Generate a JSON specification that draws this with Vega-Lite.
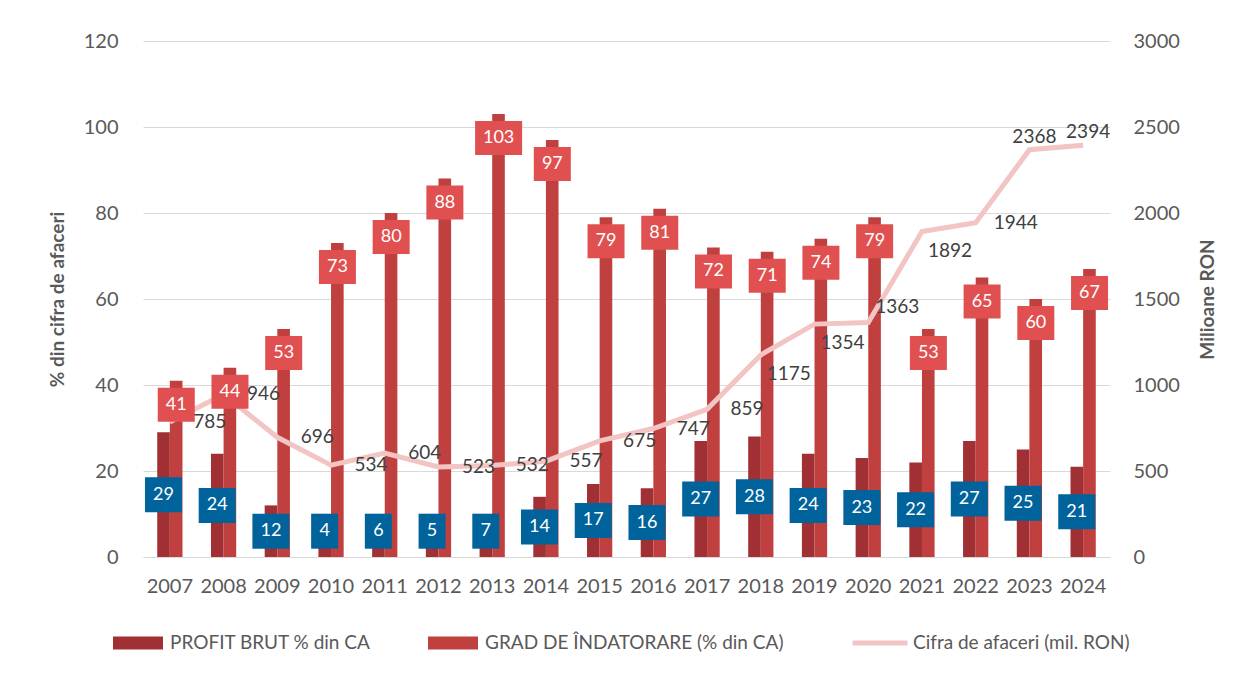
{
  "$schema": "https://vega.github.io/schema/vega-lite/v6.json",
  "width": 967,
  "height": 516,
  "autosize": {"type": "none"},
  "padding": {"left": 143, "top": 41, "right": 136, "bottom": 116},
  "background": "white",
  "config": {
    "view": {"stroke": null},
    "font": "Lato",
    "axis": {"labelFont": "Lato", "labelFontSize": 20, "labelColor": "#595959", "titleFont": "Lato", "titleFontSize": 19, "titleFontWeight": "bold", "titleColor": "#595959", "ticks": false},
    "legend": {"labelFont": "Lato", "labelFontSize": 19, "labelColor": "#595959", "labelLimit": 0, "orient": "none", "direction": "horizontal", "title": null}
  },
  "data": {"values": [
    {"year": "2007", "profit": 29, "grad": 41, "cifra": 785},
    {"year": "2008", "profit": 24, "grad": 44, "cifra": 946},
    {"year": "2009", "profit": 12, "grad": 53, "cifra": 696},
    {"year": "2010", "profit": 4, "grad": 73, "cifra": 534},
    {"year": "2011", "profit": 6, "grad": 80, "cifra": 604},
    {"year": "2012", "profit": 5, "grad": 88, "cifra": 523},
    {"year": "2013", "profit": 7, "grad": 103, "cifra": 532},
    {"year": "2014", "profit": 14, "grad": 97, "cifra": 557},
    {"year": "2015", "profit": 17, "grad": 79, "cifra": 675},
    {"year": "2016", "profit": 16, "grad": 81, "cifra": 747},
    {"year": "2017", "profit": 27, "grad": 72, "cifra": 859},
    {"year": "2018", "profit": 28, "grad": 71, "cifra": 1175},
    {"year": "2019", "profit": 24, "grad": 74, "cifra": 1354},
    {"year": "2020", "profit": 23, "grad": 79, "cifra": 1363},
    {"year": "2021", "profit": 22, "grad": 53, "cifra": 1892},
    {"year": "2022", "profit": 27, "grad": 65, "cifra": 1944},
    {"year": "2023", "profit": 25, "grad": 60, "cifra": 2368},
    {"year": "2024", "profit": 21, "grad": 67, "cifra": 2394}
  ]},
  "encoding": {
    "x": {
      "field": "year", "type": "nominal", "title": null,
      "scale": {"paddingInner": 0.53, "paddingOuter": 0.265},
      "axis": {"labelAngle": 0, "labelPadding": 19, "domainColor": "#D9D9D9", "domainWidth": 1, "grid": false}
    }
  },
  "layer": [
    {
      "transform": [{"fold": ["profit", "grad"], "as": ["serie", "val"]}],
      "mark": {"type": "bar"},
      "encoding": {
        "xOffset": {"field": "serie", "type": "nominal", "scale": {"domain": ["profit", "grad"], "paddingInner": 0, "paddingOuter": 0}},
        "y": {"field": "val", "type": "quantitative", "scale": {"domain": [0, 120], "nice": false},
          "axis": {"orient": "left", "values": [0, 20, 40, 60, 80, 100, 120], "title": "% din cifra de afaceri", "titlePadding": 16, "labelPadding": 25, "domain": false, "grid": true, "gridColor": "#D9D9D9", "gridWidth": 1}},
        "color": {"field": "serie", "type": "nominal",
          "scale": {"domain": ["profit", "grad"], "range": ["#A13035", "#C0403F"]},
          "legend": {"legendX": -30, "legendY": 577, "symbolType": "M-1,-0.26H1V0.26H-1Z", "symbolSize": 2500, "symbolStrokeWidth": 0, "labelOffset": 7, "columnPadding": 56,
            "labelExpr": "datum.label == 'profit' ? 'PROFIT BRUT % din CA' : 'GRAD DE ÎNDATORARE (% din CA)'"}}
      }
    },
    {
      "mark": {"type": "line", "strokeWidth": 5, "interpolate": "linear"},
      "encoding": {
        "y": {"field": "cifra", "type": "quantitative", "scale": {"domain": [0, 3000], "nice": false},
          "axis": {"orient": "right", "values": [0, 500, 1000, 1500, 2000, 2500, 3000], "format": "d", "title": "Milioane RON", "titleAngle": 270, "titlePadding": 38, "labelPadding": 23, "domain": false, "grid": false}},
        "stroke": {"datum": "Cifra de afaceri (mil. RON)", "type": "nominal",
          "scale": {"range": ["#F2C4C4"]},
          "legend": {"legendX": 707, "legendY": 572, "symbolType": "stroke", "symbolSize": 3025, "symbolStrokeWidth": 5, "labelOffset": 3}}
      }
    },
    {
      "transform": [{"filter": "datum.grad >= 100"}],
      "mark": {"type": "tick", "orient": "horizontal", "size": 47, "thickness": 34, "color": "#E05050", "opacity": 1, "xOffset": 6.4, "yOffset": 24},
      "encoding": {"y": {"field": "grad", "type": "quantitative", "scale": {"domain": [0, 120], "nice": false}, "axis": null}}
    },
    {
      "transform": [{"filter": "datum.grad < 100"}],
      "mark": {"type": "tick", "orient": "horizontal", "size": 37, "thickness": 34, "color": "#E05050", "opacity": 1, "xOffset": 6.4, "yOffset": 24},
      "encoding": {"y": {"field": "grad", "type": "quantitative", "scale": {"domain": [0, 120], "nice": false}, "axis": null}}
    },
    {
      "mark": {"type": "text", "color": "white", "fontSize": 18, "font": "Lato", "align": "center", "baseline": "middle", "dx": 6.4, "dy": 24},
      "encoding": {
        "y": {"field": "grad", "type": "quantitative", "scale": {"domain": [0, 120], "nice": false}, "axis": null},
        "text": {"field": "grad", "type": "quantitative", "format": "d"}
      }
    },
    {
      "transform": [{"calculate": "max(datum.profit / 2, 6)", "as": "pos"}, {"filter": "datum.profit < 10"}],
      "mark": {"type": "tick", "orient": "horizontal", "size": 27, "thickness": 35, "color": "#00639B", "opacity": 1, "xOffset": -6.4},
      "encoding": {"y": {"field": "pos", "type": "quantitative", "scale": {"domain": [0, 120], "nice": false}, "axis": null}}
    },
    {
      "transform": [{"calculate": "max(datum.profit / 2, 6)", "as": "pos"}, {"filter": "datum.profit >= 10"}],
      "mark": {"type": "tick", "orient": "horizontal", "size": 37, "thickness": 35, "color": "#00639B", "opacity": 1, "xOffset": -6.4},
      "encoding": {"y": {"field": "pos", "type": "quantitative", "scale": {"domain": [0, 120], "nice": false}, "axis": null}}
    },
    {
      "transform": [{"calculate": "max(datum.profit / 2, 6)", "as": "pos"}],
      "mark": {"type": "text", "color": "white", "fontSize": 18, "font": "Lato", "align": "center", "baseline": "middle", "dx": -6.4},
      "encoding": {
        "y": {"field": "pos", "type": "quantitative", "scale": {"domain": [0, 120], "nice": false}, "axis": null},
        "text": {"field": "profit", "type": "quantitative", "format": "d"}
      }
    },
    {
      "transform": [{"filter": "datum.year <= '2017' || datum.year == '2022'"}],
      "mark": {"type": "text", "color": "#404040", "fontSize": 19, "font": "Lato", "align": "center", "baseline": "middle", "dx": 40, "dy": 0},
      "encoding": {
        "y": {"field": "cifra", "type": "quantitative", "scale": {"domain": [0, 3000], "nice": false}, "axis": null},
        "text": {"field": "cifra", "type": "quantitative", "format": "d"}
      }
    },
    {
      "transform": [{"filter": "datum.year == '2018' || datum.year == '2019' || datum.year == '2021'"}],
      "mark": {"type": "text", "color": "#404040", "fontSize": 19, "font": "Lato", "align": "center", "baseline": "middle", "dx": 28, "dy": 19},
      "encoding": {
        "y": {"field": "cifra", "type": "quantitative", "scale": {"domain": [0, 3000], "nice": false}, "axis": null},
        "text": {"field": "cifra", "type": "quantitative", "format": "d"}
      }
    },
    {
      "transform": [{"filter": "datum.year == '2020'"}],
      "mark": {"type": "text", "color": "#404040", "fontSize": 19, "font": "Lato", "align": "center", "baseline": "middle", "dx": 29, "dy": -16},
      "encoding": {
        "y": {"field": "cifra", "type": "quantitative", "scale": {"domain": [0, 3000], "nice": false}, "axis": null},
        "text": {"field": "cifra", "type": "quantitative", "format": "d"}
      }
    },
    {
      "transform": [{"filter": "datum.year >= '2023'"}],
      "mark": {"type": "text", "color": "#404040", "fontSize": 19, "font": "Lato", "align": "center", "baseline": "middle", "dx": 5, "dy": -13},
      "encoding": {
        "y": {"field": "cifra", "type": "quantitative", "scale": {"domain": [0, 3000], "nice": false}, "axis": null},
        "text": {"field": "cifra", "type": "quantitative", "format": "d"}
      }
    }
  ],
  "resolve": {"scale": {"y": "independent"}}
}
